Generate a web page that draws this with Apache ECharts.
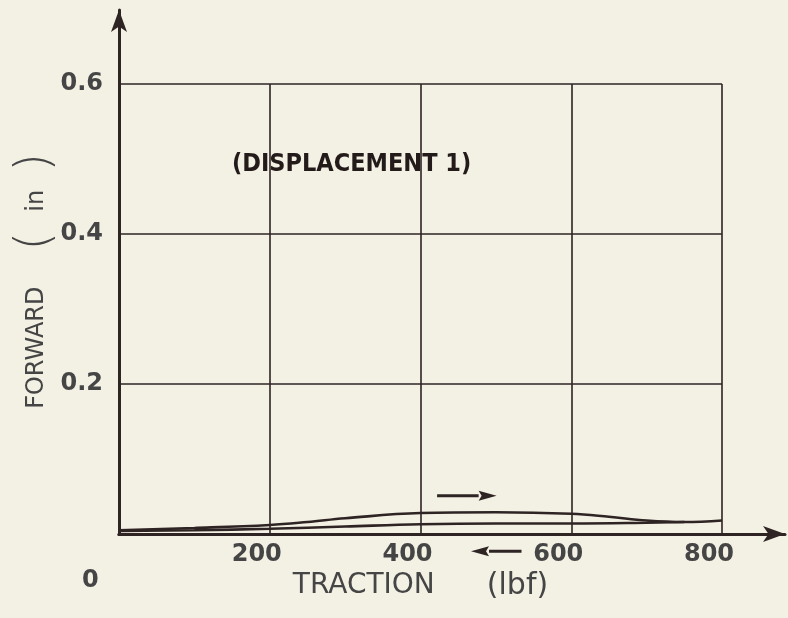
<!DOCTYPE html>
<html>
<head>
<meta charset="utf-8">
<script src="https://cdn.jsdelivr.net/npm/echarts@6/dist/echarts.min.js"></script>
<style>
html,body{margin:0;padding:0;background:#f3f0e4;}
#c{width:788px;height:618px;}
</style>
</head>
<body>
<div id="c"></div>
<script>
// ---- data ----
const xTicks = [0, 200, 400, 600, 800];
const yTicks = [0, 0.2, 0.4, 0.6];
const forwardX = [0, 100, 200, 250, 300, 400, 500, 600, 650, 700, 750, 800];
const forwardY = [0.005, 0.008, 0.012, 0.016, 0.021, 0.028, 0.029, 0.027, 0.023, 0.018, 0.016, 0.018];
const returnX = [0, 100, 200, 300, 400, 500, 600, 700, 750];
const returnY = [0.004, 0.005, 0.007, 0.010, 0.013, 0.014, 0.014, 0.015, 0.016];
const loadArrow = [[422, 0.051], [501, 0.051]];     // forward direction arrow
const unloadArrow = [[534, -0.023], [467, -0.023]]; // return direction arrow
const originLabel = { text: '0', at: [-38, -0.063] };
const titleText = '(DISPLACEMENT 1)';

const ink = '#2e2424';
const labelInk = '#454545';

const chart = echarts.init(document.getElementById('c'), null, { renderer: 'canvas' });

function pairs(xs, ys) { return xs.map((x, i) => [x, ys[i]]); }

const option = {
  backgroundColor: '#f3f0e4',
  animation: false,
  title: {
    text: titleText,
    left: 227, top: 147,
    textStyle: { fontFamily: '"DejaVu Sans Condensed", "Liberation Sans", sans-serif', fontWeight: 'bold', fontSize: 25, color: '#231a1a' }
  },
  grid: [
    { left: 119, right: 66, top: 84, bottom: 84, containLabel: false, outerBoundsMode: 'none' },
    { left: 119, right: 3, top: 10, bottom: 84, containLabel: false, outerBoundsMode: 'none' }
  ],
  xAxis: [
    {
      type: 'value', gridIndex: 0, min: xTicks[0], max: xTicks[xTicks.length - 1], interval: 200,
      axisLine: { show: true, lineStyle: { color: ink, width: 3 } },
      axisTick: { show: false },
      splitLine: { show: true, lineStyle: { color: ink, width: 1.6 } },
      axisLabel: {
        margin: 9, fontFamily: 'DejaVu Sans', fontWeight: 'bold', fontSize: 24, color: labelInk,
        padding: [0, 26, 0, 0],
        formatter: v => (v === 0 ? '' : String(v))
      },
      name: '{a|TRACTION}{b|(lbf)}',
      nameLocation: 'middle', nameGap: 37, nameMoveOverlap: false,
      nameTextStyle: {
        rich: {
          a: { fontFamily: 'DejaVu Sans', fontSize: 28, color: labelInk },
          b: { fontFamily: 'DejaVu Sans', fontSize: 30, color: labelInk, padding: [0, 0, 0, 52] }
        }
      }
    },
    {
      type: 'value', gridIndex: 1, min: 0, max: 1,
      axisLine: { show: true, symbol: ['none', 'arrow'], symbolSize: [12, 22], lineStyle: { color: ink, width: 3 } },
      axisTick: { show: false }, axisLabel: { show: false }, splitLine: { show: false }
    }
  ],
  yAxis: [
    {
      type: 'value', gridIndex: 0, min: yTicks[0], max: yTicks[yTicks.length - 1], interval: 0.2,
      axisLine: { show: true, lineStyle: { color: ink, width: 3 } },
      axisTick: { show: false },
      splitLine: { show: true, lineStyle: { color: ink, width: 1.6 } },
      axisLabel: {
        margin: 16, fontFamily: 'DejaVu Sans', fontWeight: 'bold', fontSize: 24, color: labelInk,
        formatter: v => (v === 0 ? '' : v.toFixed(1))
      },
      name: '{a|FORWARD}{p|(}{b|in}{q|)}',
      nameLocation: 'middle', nameGap: 58, nameRotate: 90, nameMoveOverlap: false,
      nameTextStyle: {
        rich: {
          a: { fontFamily: 'DejaVu Sans', fontSize: 24, color: labelInk, padding: [0, 0, 0, 56] },
          p: { fontFamily: 'DejaVu Sans', fontSize: 48, fontWeight: 'lighter', color: labelInk, padding: [0, 20, 0, 36] },
          q: { fontFamily: 'DejaVu Sans', fontSize: 48, fontWeight: 'lighter', color: labelInk, padding: [0, 0, 0, 18] },
          b: { fontFamily: 'DejaVu Sans', fontSize: 24, color: labelInk }
        }
      }
    },
    {
      type: 'value', gridIndex: 1, min: 0, max: 1,
      axisLine: { show: true, symbol: ['none', 'arrow'], symbolSize: [12, 22], lineStyle: { color: ink, width: 3 } },
      axisTick: { show: false }, axisLabel: { show: false }, splitLine: { show: false }
    }
  ],
  series: [
    {
      type: 'line', xAxisIndex: 0, yAxisIndex: 0, data: pairs(forwardX, forwardY),
      smooth: 0.4, showSymbol: false, lineStyle: { color: ink, width: 2.6 }
    },
    {
      type: 'line', xAxisIndex: 0, yAxisIndex: 0, data: pairs(returnX, returnY),
      smooth: 0.4, showSymbol: false, lineStyle: { color: ink, width: 2.6 }
    }
  ]
};
chart.setOption(option);

function arrowGraphics(a) {
  const p0 = chart.convertToPixel({ gridIndex: 0 }, a[0]);
  const p1 = chart.convertToPixel({ gridIndex: 0 }, a[1]);
  const dir = Math.sign(p1[0] - p0[0]);
  const headLen = 18, headHalf = 5;
  const base = p1[0] - dir * headLen;
  return [
    { type: 'line', shape: { x1: p0[0], y1: p0[1], x2: base, y2: p1[1] }, style: { stroke: ink, lineWidth: 3 } },
    { type: 'polygon', shape: { points: [[p1[0], p1[1]], [base, p1[1] - headHalf], [base + dir * 3, p1[1]], [base, p1[1] + headHalf]] }, style: { fill: ink } }
  ];
}
const op = chart.convertToPixel({ gridIndex: 0 }, originLabel.at);
chart.setOption({
  graphic: [
    ...arrowGraphics(loadArrow),
    ...arrowGraphics(unloadArrow),
    { type: 'text', x: op[0], y: op[1], style: { text: originLabel.text, fontFamily: 'DejaVu Sans', fontWeight: 'bold', fontSize: 24, fill: labelInk, align: 'center', verticalAlign: 'middle' } }
  ]
});
</script>
</body>
</html>
